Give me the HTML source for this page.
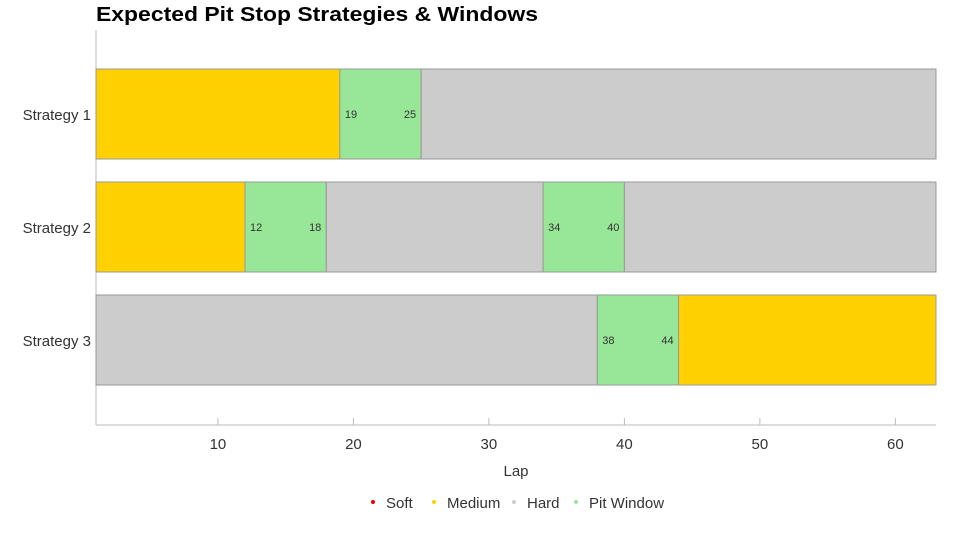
<!DOCTYPE html>
<html><head><meta charset="utf-8"><style>
body{margin:0;background:#fff;width:960px;height:540px;overflow:hidden;font-family:"Liberation Sans",sans-serif}
svg text{font-family:"Liberation Sans",sans-serif}
</style></head><body>
<svg id="c" width="960" height="540">
<text x="96" y="21" font-size="20" font-weight="900" fill="#000" textLength="442" lengthAdjust="spacingAndGlyphs">Expected Pit Stop Strategies &amp; Windows</text>
<g id="plot"></g>
</svg>
<script>
const strategies=["Strategy 1","Strategy 2","Strategy 3"];
const segStrategy=[0,0,0,1,1,1,1,1,2,2,2];
const segStart=[1,19,25,1,12,18,34,40,1,38,44];
const segEnd=[19,25,63,12,18,34,40,63,38,44,63];
const segType=["Medium","Pit","Hard","Medium","Pit","Hard","Pit","Hard","Hard","Pit","Medium"];
const xTicks=[10,20,30,40,50,60];
const legendLabels=["Soft","Medium","Hard","Pit Window"];
const colors={Soft:"#e10600",Medium:"#ffd100",Hard:"#cccccc",Pit:"#98e698","Pit Window":"#98e698"};
const NS="http://www.w3.org/2000/svg";
const g=document.getElementById("plot");
const x0=96,x1=936,xMin=1,xMax=63,yTop=30,yBottom=425;
const X=v=>x0+(v-xMin)/(xMax-xMin)*(x1-x0);
const barH=90,step=113,yFirst=69;
const Y=i=>yFirst+step*i;
function el(t,a){const e=document.createElementNS(NS,t);for(const k in a)e.setAttribute(k,a[k]);g.appendChild(e);return e;}
let ax=el("line",{x1:x0,y1:yTop,x2:x0,y2:yBottom,stroke:"#bbb"});


let bx=el("line",{x1:x0,y1:yBottom,x2:x1,y2:yBottom,stroke:"#bbb"});


strategies.forEach((s,i)=>{
 const t=el("text",{x:91,y:Y(i)+barH/2+6,"font-size":15,"text-anchor":"end",fill:"#333"});
 t.textContent=s;
 
 
});
segStart.forEach((a,k)=>{
 const b=segEnd[k],i=segStrategy[k];
 const r=el("rect",{x:X(a),y:Y(i),width:X(b)-X(a),height:barH,fill:colors[segType[k]],stroke:"#999","stroke-width":1});
 
 
 if(segType[k]==="Pit"){
  const l1=el("text",{x:X(a)+5,y:Y(i)+barH/2+4,"font-size":11,fill:"#333"});l1.textContent=a;
  
  
  const l2=el("text",{x:X(b)-5,y:Y(i)+barH/2+4,"font-size":11,fill:"#333","text-anchor":"end"});l2.textContent=b;
  
  
 }
});
xTicks.forEach(v=>{
 const tk=el("line",{x1:X(v),y1:yBottom-7,x2:X(v),y2:yBottom,stroke:"#bbb"});
 
 
 const t=el("text",{x:X(v),y:yBottom+24,"font-size":15,"text-anchor":"middle",fill:"#333"});t.textContent=v;
 
 
});
const xt=el("text",{x:516,y:476,"font-size":15,"text-anchor":"middle",fill:"#333"});xt.textContent="Lap";


const lx=[373,434,514,576];
legendLabels.forEach((s,i)=>{
 const c=el("circle",{cx:lx[i],cy:502,r:2,fill:colors[s]});
 
 
 const t=el("text",{x:lx[i]+13,y:508,"font-size":15,fill:"#333"});t.textContent=s;
 
 
});
</script>
</body></html>
